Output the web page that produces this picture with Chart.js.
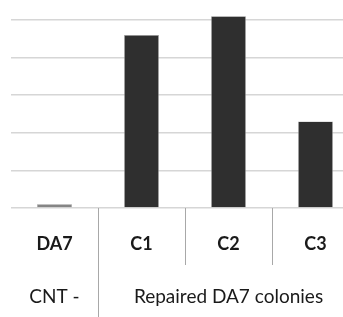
<!DOCTYPE html>
<html>
<head>
<meta charset="utf-8">
<script src="https://cdn.jsdelivr.net/npm/chart.js@4/dist/chart.umd.min.js"></script>
<style>
  html, body { margin: 0; padding: 0; background: #fff; overflow: hidden; }
  body { width: 343px; height: 317px; position: relative; }
  #wrap { position: absolute; left: 0; top: -20px; width: 370px; height: 337px; }
</style>
</head>
<body>
<div id="wrap"><canvas id="chart"></canvas></div>
<script>
// données
const categories = ['DA7', 'C1', 'C2', 'C3'];
const values = [0.1, 4.6, 5.1, 2.3];
const groups = ['CNT -', 'Repaired DA7 colonies'];
const groupSizes = [1, 3];
const yMax = 6;
const yStep = 1;

const barColors = ['#858585', '#2f2f2f', '#2f2f2f', '#2f2f2f'];
const barBorders = ['#858585', '#9a9a9a', '#9a9a9a', '#9a9a9a'];
const textColor = '#1a1a1a';
const dividerColor = '#a8a8a8';

// lignes de séparation et libellés de groupes sous l'axe x
const groupPlugin = {
    id: 'groupPlugin',
    afterDraw(chart) {
        const ctx = chart.ctx;
        const x = chart.scales.x;
        const area = chart.chartArea;
        const n = categories.length;
        const half = (x.getPixelForTick(1) - x.getPixelForTick(0)) / 2;
        const groupEnds = [];
        let acc = 0;
        groupSizes.forEach(s => { acc += s; groupEnds.push(acc); });

        ctx.save();
        ctx.strokeStyle = dividerColor;
        ctx.lineWidth = 1;
        for (let i = 1; i < n; i++) {
            const px = Math.round(x.getPixelForTick(i) - half) + 0.5;
            const isGroup = groupEnds.includes(i);
            ctx.beginPath();
            ctx.moveTo(px, area.bottom);
            ctx.lineTo(px, isGroup ? chart.height : area.bottom + 57);
            ctx.stroke();
        }

        ctx.fillStyle = textColor;
        ctx.font = '19px Lato';
        ctx.textAlign = 'center';
        ctx.textBaseline = 'middle';
        let start = 0;
        groups.forEach((g, gi) => {
            const end = start + groupSizes[gi] - 1;
            const cx = (x.getPixelForTick(start) + x.getPixelForTick(end)) / 2;
            ctx.fillText(g, cx, area.bottom + 89);
            start = end + 1;
        });
        ctx.restore();
    }
};

new Chart(document.getElementById('chart'), {
    type: 'bar',
    data: {
        labels: categories,
        datasets: [{
            data: values,
            backgroundColor: barColors,
            borderColor: barBorders,
            borderWidth: 0.6,
            categoryPercentage: 1,
            barPercentage: 0.4
        }]
    },
    options: {
        responsive: true,
        maintainAspectRatio: false,
        animation: false,
        layout: { padding: { left: 11, right: 11, top: 2.4, bottom: 0 } },
        plugins: { legend: { display: false }, tooltip: { enabled: false } },
        scales: {
            x: {
                grid: { display: false },
                border: { display: false },
                ticks: {
                    color: textColor,
                    font: { family: 'Lato', size: 18, weight: 'bold' },
                    padding: 17,
                    maxRotation: 0
                },
                afterFit(scale) { scale.height = 109; }
            },
            y: {
                min: 0,
                max: yMax,
                ticks: { display: false, stepSize: yStep },
                grid: { color: '#d6d6d6', lineWidth: 1.5, drawTicks: false },
                border: { display: false }
            }
        }
    },
    plugins: [groupPlugin]
});
</script>
</body>
</html>
